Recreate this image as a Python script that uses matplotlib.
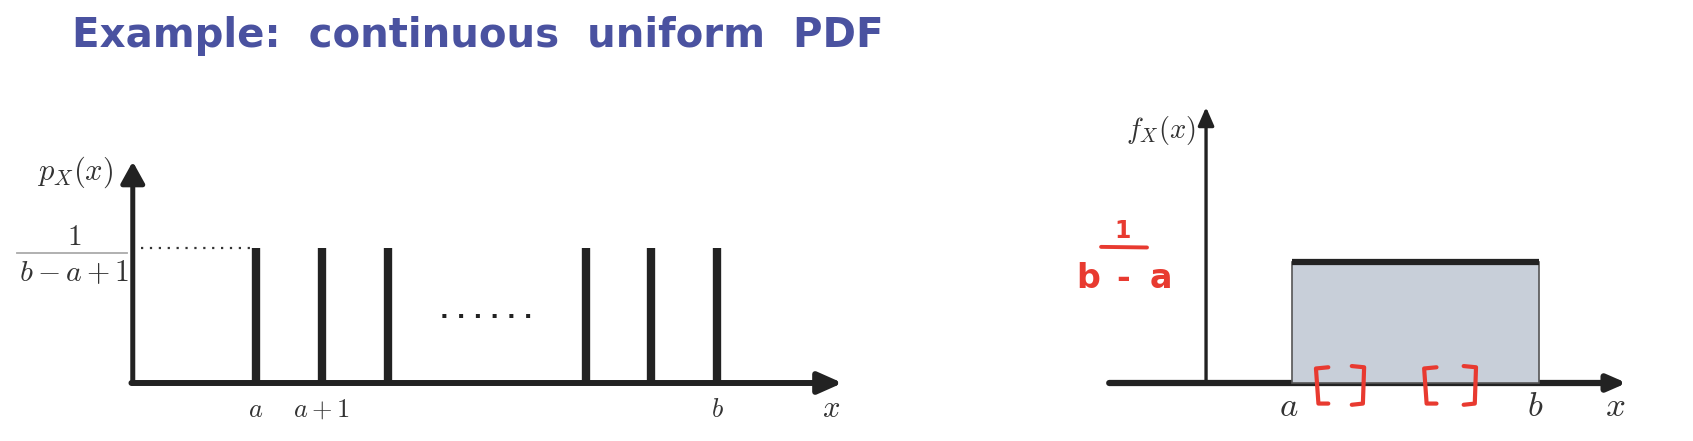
import matplotlib
matplotlib.use("Agg")
import matplotlib.pyplot as plt
from matplotlib.patches import Rectangle

plt.rcParams['mathtext.fontset'] = 'cm'

# ---------------- data ----------------
title = "Example:  continuous  uniform  PDF"
# discrete uniform PMF (left): bar positions (in units of 1 step) and heights
pmf_positions = [0, 1, 2, 5, 6, 7]
pmf_heights = [1, 1, 1, 1, 1, 1]          # each equals 1/(b-a+1)
pmf_tick_labels = [r"$a$", r"$a+1$", "", "", "", r"$b$"]
# continuous uniform PDF (right): support [a, b] and density 1/(b-a)
pdf_interval = [0.0, 1.0]
pdf_density = 1.0
pdf_tick_labels = [r"$a$", r"$b$"]
# red handwritten sub-intervals
red_intervals = [[0.097, 0.292], [0.535, 0.745]]

W, H = 1693, 441
fig = plt.figure(figsize=(W / 100, H / 100), dpi=100)
fig.patch.set_facecolor("white")

fig.text(72 / W, 1 - 36 / H, title, color="#4a52a0", fontsize=29,
         fontweight="bold", family="DejaVu Sans", va="center", ha="left")

dark = "#222222"
txt = "#333333"

# ---------------- left panel ----------------
axL = fig.add_axes([100 / W, 0, 770 / W, 301 / H])
axL.set_xlim(-156 / 65.9, 614 / 65.9)
axL.set_ylim((383 - 441) / 135, (383 - 140) / 135)
axL.axis("off")
y_ax_x = -1.87
axL.annotate("", xy=(y_ax_x, 1.64), xytext=(y_ax_x, 0),
             arrowprops=dict(arrowstyle="-|>,head_length=0.65,head_width=0.36",
                             lw=3.6, color=dark, mutation_scale=20,
                             shrinkA=0, shrinkB=0))
axL.annotate("", xy=(8.9, 0), xytext=(y_ax_x - 0.02, 0),
             arrowprops=dict(arrowstyle="-|>,head_length=0.72,head_width=0.32",
                             lw=4.3, color=dark, mutation_scale=20,
                             shrinkA=0, shrinkB=0))
axL.vlines(pmf_positions, 0, pmf_heights, colors=dark, lw=6)
axL.plot([y_ax_x + 0.12, pmf_positions[0] - 0.08], [pmf_heights[0]] * 2,
         ls=(0, (1, 3)), lw=1.6, color=txt)
axL.text(3.49, 0.53, ". . . . . .", fontsize=16.5, fontweight="bold",
         ha="center", va="center", color=dark)
for p, lab in zip(pmf_positions, pmf_tick_labels):
    if lab:
        axL.text(p, -0.2, lab, fontsize=19, ha="center", va="center", color=txt)
axL.text(8.72, -0.19, r"$x$", fontsize=22, ha="center", va="center", color=txt)
axL.text(-2.75, 1.56, r"$p_X(x)$", fontsize=22, ha="center", va="center", color=txt)
axL.text(-2.76, 1.08, r"$1$", fontsize=21, ha="center", va="center", color=txt)
axL.plot([-3.62, -1.96], [0.963, 0.963], color="#aaaaaa", lw=1.3, clip_on=False)
axL.text(-2.76, 0.82, r"$b-a+1$", fontsize=21.5, ha="center", va="center", color=txt)

# ---------------- right panel ----------------
axR = fig.add_axes([1040 / W, 0, 653 / W, 351 / H])
axR.set_xlim(-252 / 247, 401 / 247)
axR.set_ylim((383 - 441) / 121, (383 - 90) / 121)
axR.axis("off")
yR = -0.348
axR.annotate("", xy=(1.355, 0), xytext=(-0.74, 0),
             arrowprops=dict(arrowstyle="-|>,head_length=0.55,head_width=0.24",
                             lw=4.5, color=dark, mutation_scale=20,
                             shrinkA=0, shrinkB=0))
axR.annotate("", xy=(yR, 2.28), xytext=(yR, 0),
             arrowprops=dict(arrowstyle="-|>,head_length=0.55,head_width=0.24",
                             lw=2.4, color=dark, mutation_scale=20,
                             shrinkA=0, shrinkB=0))
a, b = pdf_interval
axR.add_patch(Rectangle((a, 0), b - a, pdf_density, facecolor="#c8cfd9",
                        edgecolor="#555555", lw=1.2, zorder=3))
axR.plot([a, b], [pdf_density] * 2, color=dark, lw=4.5, zorder=4,
         solid_capstyle="butt")
for xv, lab in zip(pdf_interval, pdf_tick_labels):
    axR.text(xv - 0.015, -0.19, lab, fontsize=25, ha="center", va="center", color=txt)
axR.text(1.31, -0.19, r"$x$", fontsize=25, ha="center", va="center", color=txt)
axR.text(-0.53, 2.09, r"$f_X(x)$", fontsize=20.5, ha="center", va="center", color=txt)

red = "#e83a30"
for lo, hi in red_intervals:
    top, bot = 0.13, -0.17
    s = 0.05
    axR.plot([lo + s, lo, lo + 0.01, lo + s], [top, top - 0.01, bot, bot],
             color=red, lw=3, zorder=5, solid_joinstyle="round", solid_capstyle="round")
    axR.plot([hi - s, hi, hi - 0.005, hi - s], [top + 0.01, top, bot, bot - 0.01],
             color=red, lw=3, zorder=5, solid_joinstyle="round", solid_capstyle="round")

axR.text(-0.684, 1.26, "1", fontsize=17, fontweight="bold", color=red,
         ha="center", va="center")
axR.plot([-0.773, -0.587], [1.125, 1.12], color=red, lw=2.8, solid_capstyle="round")
axR.text(-0.826, 0.86, "b", fontsize=24, fontweight="bold", color=red, ha="center", va="center")
axR.text(-0.684, 0.86, "-", fontsize=24, fontweight="bold", color=red, ha="center", va="center")
axR.text(-0.53, 0.86, "a", fontsize=24, fontweight="bold", color=red, ha="center", va="center")

fig.savefig("out.png", dpi=100)
